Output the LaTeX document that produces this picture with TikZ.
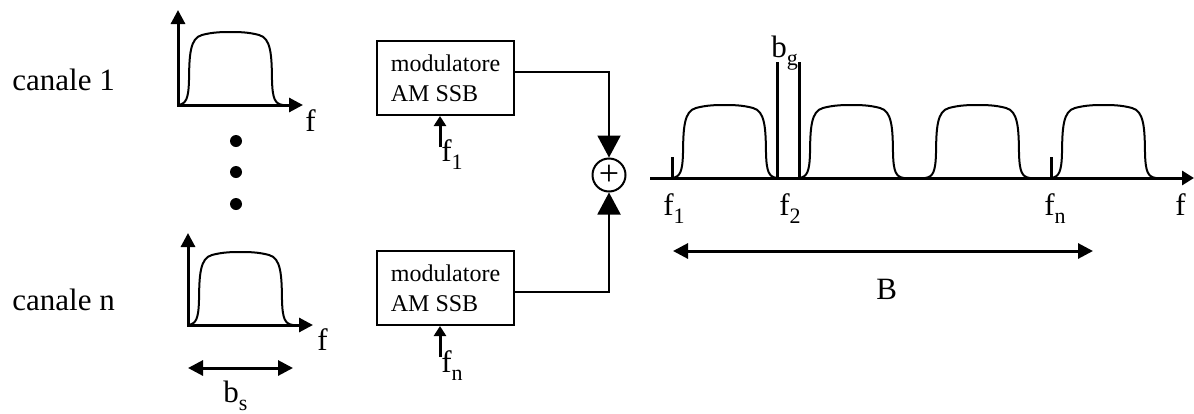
\documentclass[tikz,border=0pt]{standalone}
\usepackage{fontspec}
\setmainfont{Liberation Serif}
\usetikzlibrary{arrows.meta}
\newcommand{\lowsub}[1]{\raisebox{-4pt}{\fontsize{11}{11}\selectfont #1}}
\begin{document}
\begin{tikzpicture}[x = 0.5pt, y = -0.5pt,
    axis/.style = {line width = 1.5pt, -{Triangle[length = 6pt, width = 7pt]}},
    axes/.style = {line width = 1.5pt, {Triangle[length = 7pt, width = 7pt]}-{Triangle[length = 7pt, width = 7pt]}},
    spec/.style = {line width = 1pt},
    bar/.style = {line width = 1.5pt},
    lbl/.style = {inner sep = 0pt, font = \fontsize{15.5}{18}\selectfont},
    block/.style = {draw, line width = 1pt, minimum width = 68.5pt, minimum height = 37pt,
                    align = left, font = \fontsize{12}{15}\selectfont},
    conn/.style = {line width = 1pt, -{Triangle[length = 11pt, width = 11.5pt]}},
    carrier/.style = {line width = 1.5pt, -{Triangle[length = 5pt, width = 6pt]}},
    span/.style = {line width = 1.5pt, {Triangle[length = 7.5pt, width = 7.5pt]}-{Triangle[length = 7.5pt, width = 7.5pt]}},
    lump/.pic = {\draw [spec] (0,0) .. controls (8,-1) and (10.5,-6) .. (11,-25)
                   .. controls (11.3,-50) and (12,-67) .. (24,-70)
                   .. controls (35,-73) and (45,-73) .. (52.5,-73)
                   .. controls (60,-73) and (70,-73) .. (81,-70)
                   .. controls (93,-67) and (93.7,-50) .. (94,-25)
                   .. controls (94.5,-6) and (97,-1) .. (105,0);}]
  \useasboundingbox (0,0) rectangle (1194,413);

  \node [lbl, anchor = base west] (ch1) at (12,90) {canale 1};
  \node [lbl, anchor = base west] (chn) at (12,310) {canale n};

  \draw [axes] (178,10) -- (178,105) -- (303,105);
  \pic at (178,105) {lump};
  \node [lbl, anchor = base west] (fa) at (305,131) {f};
  \foreach \y in {141,172,204}
    \fill (236,\y) circle (3pt);
  \draw [axes] (188,233) -- (188,325) -- (313,325);
  \pic at (188,325) {lump};
  \node [lbl, anchor = base west] (fb) at (317,350) {f};
  \coordinate (bsl) at (188,368);
  \coordinate (bsr) at (293,368);
  \draw [span] (bsl) -- (bsr);
  \node [lbl, anchor = base west] (bs) at (223,402) {b\lowsub{s}};

  \node [block] (mod1) at (445.5,78) {modulatore\\AM SSB};
  \node [block] (modn) at (445.5,288) {modulatore\\AM SSB};
  \node [draw, circle, line width = 1pt, minimum size = 16.5pt, inner sep = 0pt,
         font = \fontsize{18}{18}\selectfont] (sum) at (609,175) {\raisebox{-2pt}{+}};
  \draw [conn] ([yshift = 3pt]mod1.east) -| (sum);
  \draw [conn] ([yshift = -2pt]modn.east) -| (sum);
  \coordinate (c1) at (440,147);
  \coordinate (cn) at (440,357);
  \draw [carrier] (c1) -- (c1 |- mod1.south);
  \draw [carrier] (cn) -- (cn |- modn.south);
  \node [lbl, anchor = base west] (lf1) at (441,161) {f\lowsub{1}};
  \node [lbl, anchor = base west] (lfn) at (441,372) {f\lowsub{n}};

  \draw [axis] (650,178) -- (1194,178);
  \foreach \x in {672,799,925,1051}
    \pic at (\x,178) {lump};
  \draw [bar] (672,178) -- (672,157);
  \draw [bar] (1051,178) -- (1051,157);
  \draw [bar] (777,178) -- (777,62);
  \draw [bar] (799,178) -- (799,62);
  \node [lbl, anchor = base west] (bg) at (771,57) {b\lowsub{g}};
  \node [lbl, anchor = base west] (x1) at (663,215) {f\lowsub{1}};
  \node [lbl, anchor = base west] (x2) at (779,215) {f\lowsub{2}};
  \node [lbl, anchor = base west] (xn) at (1044,215) {f\lowsub{n}};
  \node [lbl, anchor = base west] (xf) at (1175,215) {f};
  \coordinate (bl) at (673,251);
  \coordinate (br) at (1093,251);
  \draw [span] (bl) -- (br);
  \node [lbl, anchor = base west] (bw) at (876,299) {B};
\end{tikzpicture}
\end{document}
